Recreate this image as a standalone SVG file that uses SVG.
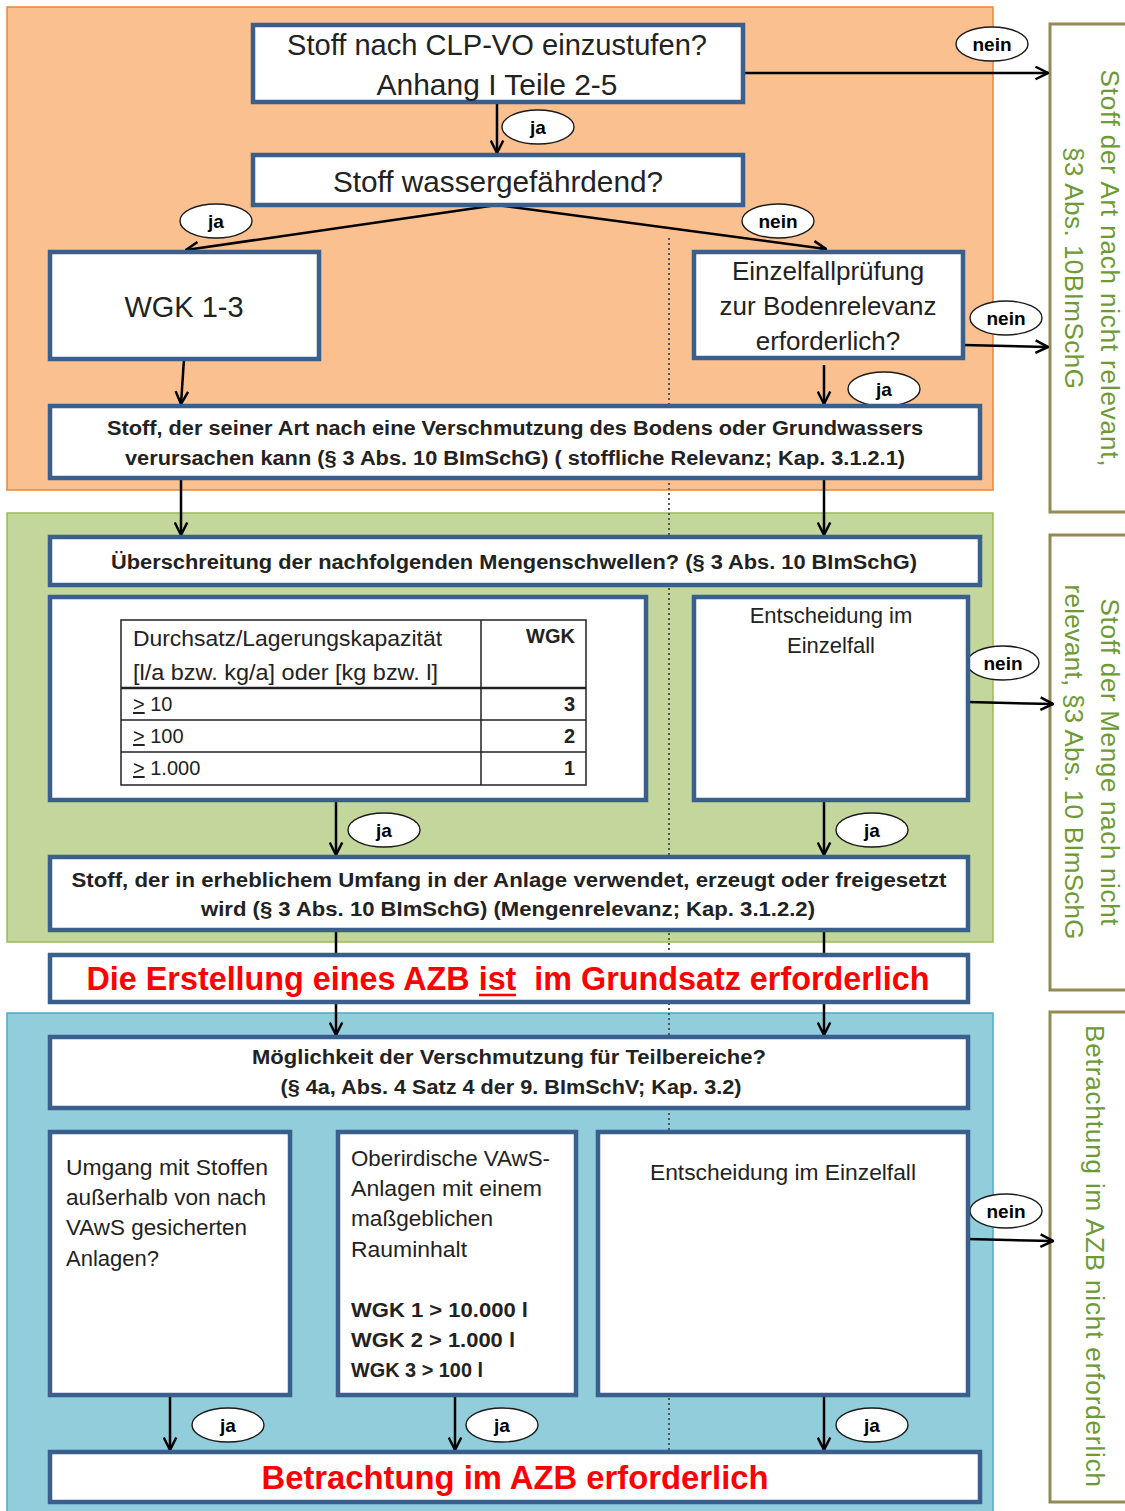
<svg xmlns="http://www.w3.org/2000/svg" width="1125" height="1511" viewBox="0 0 1125 1511">
<defs>
<style>
text{font-family:'Liberation Sans',Arial,sans-serif;fill:#222}
.b{font-weight:bold}
.m{text-anchor:middle}
.e{text-anchor:end}
.box{fill:#fff;stroke:#3A5F8C;stroke-width:4.5}
.side{fill:#fff;stroke:#948A54;stroke-width:3}
.gt{fill:#6E9A35;font-size:26px;text-anchor:middle}
.lbl{fill:#fff;stroke:#1a1a1a;stroke-width:1.4}
.lt{font-weight:bold;font-size:19px;text-anchor:middle;fill:#000}
.c{fill:none;stroke:#000;stroke-width:2.5}
.a{marker-end:url(#ah)}
.dot{fill:none;stroke:#555;stroke-width:2;stroke-dasharray:2 3}
.red{fill:#FF0000;font-weight:bold;font-size:33px;text-anchor:middle}
.tb{fill:none;stroke:#222;stroke-width:1.5}
</style>
<marker id="ah" viewBox="0 0 12 12" refX="11" refY="6" markerWidth="15" markerHeight="15" markerUnits="userSpaceOnUse" orient="auto"><path d="M1,1 L11,6 L1,11" fill="none" stroke="#000" stroke-width="2"/></marker>
</defs>

<g id="panels">
<rect x="7" y="7" width="986" height="483" fill="#FAC090" stroke="#E9873A" stroke-width="1.5"/>
<rect x="7" y="513" width="986" height="429" fill="#C3D69B" stroke="#9BBB59" stroke-width="1.5"/>
<rect x="7" y="1013" width="986" height="510" fill="#92CDDC" stroke="#4BACC6" stroke-width="1.5"/>
</g>

<g id="side-art">
<rect class="side" x="1050" y="24" width="100" height="488"/>
<g transform="translate(1101,268) rotate(90)">
<text class="gt" textLength="397" lengthAdjust="spacing">Stoff der Art nach nicht relevant,</text>
<text class="gt" y="36" textLength="242" lengthAdjust="spacing">§3 Abs. 10BImSchG</text>
</g>
</g>
<g id="side-menge">
<rect class="side" x="1050" y="535" width="100" height="455"/>
<g transform="translate(1101,762) rotate(90)">
<text class="gt" textLength="327" lengthAdjust="spacing">Stoff der Menge nach nicht</text>
<text class="gt" y="36" textLength="355" lengthAdjust="spacing">relevant, §3 Abs. 10 BImSchG</text>
</g>
</g>
<g id="side-azb">
<rect class="side" x="1050" y="1012" width="100" height="490"/>
<g transform="translate(1086,1256) rotate(90)">
<text class="gt" textLength="462" lengthAdjust="spacing">Betrachtung im AZB nicht erforderlich</text>
</g>
</g>

<g id="connectors">
<path class="dot" d="M669,238 V1452"/>
<path class="c a" d="M497,102 V153"/>
<path class="c a" d="M743,73 H1048"/>
<path class="c a" d="M497,205 L186,250"/>
<path class="c a" d="M497,205 L826,249"/>
<path class="c a" d="M963,345 L1048,347"/>
<path class="c a" d="M824,365 V404"/>
<path class="c a" d="M184,359 L181,404"/>
<path class="c a" d="M181,480 V535"/>
<path class="c a" d="M824,480 V535"/>
<path class="c a" d="M336,800 V855"/>
<path class="c a" d="M824,800 V855"/>
<path class="c a" d="M968,702 L1053,704"/>
<path class="c" d="M336,930 V955"/>
<path class="c" d="M824,930 V955"/>
<path class="c a" d="M336,1002 V1035"/>
<path class="c a" d="M824,1002 V1035"/>
<path class="c a" d="M968,1239 L1053,1241"/>
<path class="c a" d="M170,1395 V1450"/>
<path class="c a" d="M455,1395 V1450"/>
<path class="c a" d="M824,1395 V1450"/>
<g id="labels">
<ellipse class="lbl" cx="538" cy="127" rx="36" ry="17"/><text class="lt" x="538" y="134">ja</text>
<ellipse class="lbl" cx="992" cy="44" rx="36" ry="17"/><text class="lt" x="992" y="51">nein</text>
<ellipse class="lbl" cx="216" cy="221" rx="36" ry="17"/><text class="lt" x="216" y="228">ja</text>
<ellipse class="lbl" cx="778" cy="221" rx="36" ry="17"/><text class="lt" x="778" y="228">nein</text>
<ellipse class="lbl" cx="1006" cy="318" rx="36" ry="17"/><text class="lt" x="1006" y="325">nein</text>
<ellipse class="lbl" cx="884" cy="389" rx="36" ry="17"/><text class="lt" x="884" y="396">ja</text>
<ellipse class="lbl" cx="1003" cy="663" rx="36" ry="17"/><text class="lt" x="1003" y="670">nein</text>
<ellipse class="lbl" cx="384" cy="830" rx="36" ry="17"/><text class="lt" x="384" y="837">ja</text>
<ellipse class="lbl" cx="872" cy="830" rx="36" ry="17"/><text class="lt" x="872" y="837">ja</text>
<ellipse class="lbl" cx="1006" cy="1211" rx="36" ry="17"/><text class="lt" x="1006" y="1218">nein</text>
<ellipse class="lbl" cx="228" cy="1425" rx="36" ry="17"/><text class="lt" x="228" y="1432">ja</text>
<ellipse class="lbl" cx="502" cy="1425" rx="36" ry="17"/><text class="lt" x="502" y="1432">ja</text>
<ellipse class="lbl" cx="872" cy="1425" rx="36" ry="17"/><text class="lt" x="872" y="1432">ja</text>
</g>
</g>

<g id="n-clp">
<rect class="box" x="253" y="25" width="490" height="77"/>
<text class="m" x="497" y="55" font-size="29" textLength="420" lengthAdjust="spacingAndGlyphs">Stoff nach CLP-VO einzustufen?</text>
<text class="m" x="497" y="95" font-size="29" textLength="241" lengthAdjust="spacingAndGlyphs">Anhang I Teile 2-5</text>
</g>
<g id="n-wasser">
<rect class="box" x="253" y="155" width="490" height="50"/>
<text class="m" x="498" y="192" font-size="29" textLength="330" lengthAdjust="spacingAndGlyphs">Stoff wassergefährdend?</text>
</g>
<g id="n-wgk">
<rect class="box" x="50" y="252" width="269" height="107"/>
<text class="m" x="184" y="317" font-size="29">WGK 1-3</text>
</g>
<g id="n-einzelfallpruefung">
<rect class="box" x="694" y="252" width="269" height="106"/>
<text class="m" x="828" y="280" font-size="26">Einzelfallprüfung</text>
<text class="m" x="828" y="315" font-size="26">zur Bodenrelevanz</text>
<text class="m" x="828" y="350" font-size="26">erforderlich?</text>
</g>
<g id="n-stoffrelevanz">
<rect class="box" x="50" y="406" width="930" height="72"/>
<text class="m b" x="515" y="435" font-size="19.5" textLength="816" lengthAdjust="spacingAndGlyphs">Stoff, der seiner Art nach eine Verschmutzung des Bodens oder Grundwassers</text>
<text class="m b" x="515" y="465" font-size="19.5" textLength="780" lengthAdjust="spacingAndGlyphs">verursachen kann (§ 3 Abs. 10 BImSchG) ( stoffliche Relevanz; Kap. 3.1.2.1)</text>
</g>

<g id="n-mengenschwellen">
<rect class="box" x="50" y="537" width="930" height="48"/>
<text class="m b" x="514" y="569" font-size="19.5" textLength="806" lengthAdjust="spacingAndGlyphs">Überschreitung der nachfolgenden Mengenschwellen? (§ 3 Abs. 10 BImSchG)</text>
</g>
<g id="n-tabelle">
<rect class="box" x="50" y="597" width="596" height="203"/>
<rect class="tb" x="121" y="620" width="465" height="165"/>
<path class="tb" d="M121,720 H586 M121,752 H586 M481,620 V785"/>
<path fill="none" stroke="#222" stroke-width="2.5" d="M121,688 H586"/>
<text x="133" y="646" font-size="22" textLength="309" lengthAdjust="spacingAndGlyphs">Durchsatz/Lagerungskapazität</text>
<text x="133" y="680" font-size="22" textLength="305" lengthAdjust="spacingAndGlyphs">[l/a bzw. kg/a] oder [kg bzw. l]</text>
<text class="e b" x="575" y="643" font-size="20">WGK</text>
<text x="133" y="711" font-size="20"><tspan text-decoration="underline">&gt;</tspan> 10</text>
<text class="e b" x="575" y="711" font-size="20">3</text>
<text x="133" y="743" font-size="20"><tspan text-decoration="underline">&gt;</tspan> 100</text>
<text class="e b" x="575" y="743" font-size="20">2</text>
<text x="133" y="775" font-size="20"><tspan text-decoration="underline">&gt;</tspan> 1.000</text>
<text class="e b" x="575" y="775" font-size="20">1</text>
</g>
<g id="n-entscheidung-menge">
<rect class="box" x="694" y="597" width="274" height="203"/>
<text class="m" x="831" y="623" font-size="22">Entscheidung im</text>
<text class="m" x="831" y="653" font-size="22">Einzelfall</text>
</g>
<g id="n-mengenrelevanz">
<rect class="box" x="50" y="857" width="918" height="73"/>
<text class="m b" x="509" y="887" font-size="19.5" textLength="875" lengthAdjust="spacingAndGlyphs">Stoff, der in erheblichem Umfang in der Anlage verwendet, erzeugt oder freigesetzt</text>
<text class="m b" x="508" y="916" font-size="19.5" textLength="614" lengthAdjust="spacingAndGlyphs">wird (§ 3 Abs. 10 BImSchG) (Mengenrelevanz; Kap. 3.1.2.2)</text>
</g>
<g id="n-azb-grundsatz">
<rect class="box" x="50" y="955" width="918" height="47"/>
<text class="red" x="508" y="990" textLength="843" lengthAdjust="spacingAndGlyphs" style="white-space:pre">Die Erstellung eines AZB ist  im Grundsatz erforderlich</text>
<path d="M479,995 H516" stroke="#FF0000" stroke-width="2.5"/>
</g>

<g id="n-teilbereiche">
<rect class="box" x="50" y="1037" width="918" height="71"/>
<text class="m b" x="509" y="1064" font-size="19.5" textLength="514" lengthAdjust="spacingAndGlyphs">Möglichkeit der Verschmutzung für Teilbereiche?</text>
<text class="m b" x="511" y="1094" font-size="19.5" textLength="461" lengthAdjust="spacingAndGlyphs">(§ 4a, Abs. 4 Satz 4 der 9. BImSchV; Kap. 3.2)</text>
</g>
<g id="n-umgang">
<rect class="box" x="50" y="1132" width="240" height="263"/>
<text x="66" y="1175" font-size="22" textLength="202" lengthAdjust="spacingAndGlyphs">Umgang mit Stoffen</text>
<text x="66" y="1205" font-size="22" textLength="200" lengthAdjust="spacingAndGlyphs">außerhalb von nach</text>
<text x="66" y="1235" font-size="22" textLength="181" lengthAdjust="spacingAndGlyphs">VAwS gesicherten</text>
<text x="66" y="1266" font-size="22">Anlagen?</text>
</g>
<g id="n-vaws">
<rect class="box" x="338" y="1132" width="238" height="263"/>
<text x="351" y="1166" font-size="22" textLength="199" lengthAdjust="spacingAndGlyphs">Oberirdische VAwS-</text>
<text x="351" y="1196" font-size="22" textLength="191" lengthAdjust="spacingAndGlyphs">Anlagen mit einem</text>
<text x="351" y="1226" font-size="22" textLength="142" lengthAdjust="spacingAndGlyphs">maßgeblichen</text>
<text x="351" y="1257" font-size="22" textLength="116" lengthAdjust="spacingAndGlyphs">Rauminhalt</text>
<text class="b" x="351" y="1317" font-size="21" textLength="177" lengthAdjust="spacingAndGlyphs">WGK 1 &gt; 10.000 l</text>
<text class="b" x="351" y="1347" font-size="21" textLength="164" lengthAdjust="spacingAndGlyphs">WGK 2 &gt; 1.000 l</text>
<text class="b" x="351" y="1377" font-size="21" textLength="132" lengthAdjust="spacingAndGlyphs">WGK 3 &gt; 100 l</text>
</g>
<g id="n-entscheidung-teil">
<rect class="box" x="598" y="1132" width="370" height="263"/>
<text class="m" x="783" y="1180" font-size="22" textLength="266" lengthAdjust="spacingAndGlyphs">Entscheidung im Einzelfall</text>
</g>
<g id="n-azb-erforderlich">
<rect class="box" x="50" y="1452" width="930" height="50"/>
<text class="red" x="515" y="1489" textLength="507" lengthAdjust="spacingAndGlyphs">Betrachtung im AZB erforderlich</text>
</g>
</svg>
